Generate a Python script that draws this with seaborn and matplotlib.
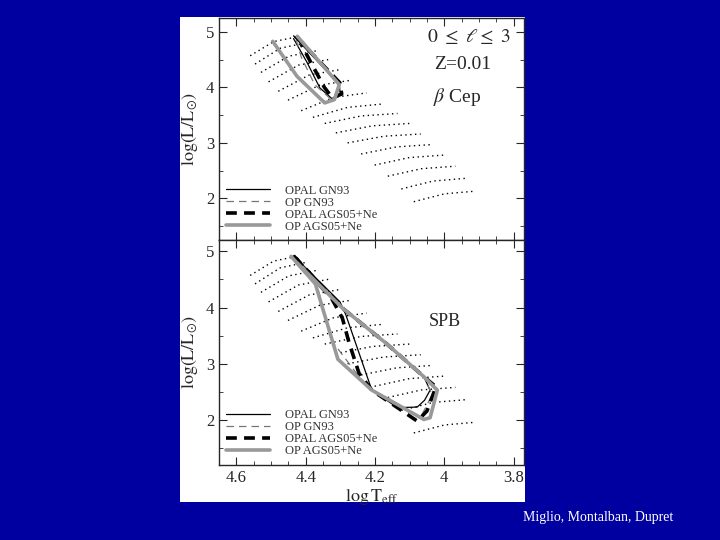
import numpy as np, pandas as pd, matplotlib
matplotlib.use("Agg")
import matplotlib.pyplot as plt
import seaborn as sns
from matplotlib.lines import Line2D

sns.set_style("ticks")
plt.rcParams['font.family'] = ['Liberation Serif', 'DejaVu Serif']
plt.rcParams['mathtext.fontset'] = 'stix'

# Evolutionary tracks: ZAMS start (logT, logL) and end points
track_T0 = [4.560, 4.546, 4.529, 4.507, 4.479, 4.451, 4.413, 4.379, 4.345, 4.313, 4.279, 4.240, 4.201, 4.163, 4.124, 4.088]
track_L0 = [4.57, 4.42, 4.27, 4.10, 3.93, 3.77, 3.58, 3.46, 3.35, 3.18, 3.00, 2.80, 2.60, 2.40, 2.17, 1.94]
track_T1 = [4.425, 4.401, 4.368, 4.335, 4.301, 4.268, 4.224, 4.179, 4.135, 4.101, 4.068, 4.035, 4.001, 3.968, 3.940, 3.910]
track_L1 = [4.91, 4.80, 4.66, 4.50, 4.32, 4.13, 3.90, 3.70, 3.53, 3.35, 3.16, 2.97, 2.78, 2.58, 2.36, 2.13]
bot_shift_L = [0.0]*15 + [-0.17]

# Top panel (beta Cep) boundaries
top_opal_gn93_T = [4.435, 4.307, 4.298, 4.321, 4.359, 4.396, 4.435]
top_opal_gn93_L = [4.93, 4.08, 3.87, 3.78, 3.99, 4.45, 4.88]
top_op_gn93_T = [4.429, 4.304, 4.296, 4.329, 4.374, 4.413, 4.429]
top_op_gn93_L = [4.92, 4.06, 3.86, 3.80, 4.05, 4.55, 4.90]
top_opal_ags_T = [4.429, 4.301, 4.296, 4.324, 4.346, 4.385, 4.413]
top_opal_ags_L = [4.92, 4.08, 3.88, 3.82, 4.00, 4.45, 4.78]
top_op_ags_T = [4.495, 4.425, 4.345, 4.317, 4.303, 4.424]
top_op_ags_L = [4.83, 4.20, 3.72, 3.78, 4.05, 4.92]

# Bottom panel (SPB) boundaries
bot_opal_gn93_T = [4.435, 4.294, 4.171, 4.059, 4.041, 4.057, 4.078, 4.135, 4.209, 4.284, 4.301, 4.435]
bot_opal_gn93_L = [4.92, 3.99, 3.38, 2.77, 2.53, 2.35, 2.23, 2.22, 2.53, 3.87, 4.10, 4.92]
bot_op_gn93_T = [4.435, 4.294, 4.171, 4.059, 4.035, 4.068, 4.209, 4.246, 4.321, 4.368, 4.435]
bot_op_gn93_L = [4.92, 3.99, 3.38, 2.77, 2.45, 2.05, 2.53, 2.77, 3.38, 4.40, 4.92]
bot_opal_ags_T = [4.435, 4.294, 4.171, 4.059, 4.024, 4.050, 4.078, 4.209, 4.246, 4.275, 4.294, 4.324, 4.435]
bot_opal_ags_L = [4.92, 3.99, 3.38, 2.77, 2.59, 2.16, 1.98, 2.53, 2.83, 3.38, 3.81, 4.15, 4.92]
bot_op_ags_T = [4.442, 4.372, 4.307, 4.209, 4.059, 4.041, 4.020, 4.059, 4.171, 4.294, 4.424]
bot_op_ags_L = [4.91, 4.42, 3.08, 2.53, 2.01, 2.04, 2.53, 2.77, 3.38, 3.99, 4.79]

legend_labels = ["OPAL GN93", "OP GN93", "OPAL AGS05+Ne", "OP AGS05+Ne"]
styles = [dict(color='black', lw=0.9, ls='-'),
          dict(color='#777777', lw=0.9, ls=(0, (6, 4))),
          dict(color='black', lw=2.6, ls=(0, (3, 2))),
          dict(color='#999999', lw=2.6, ls='-')]

fig = plt.figure(figsize=(7.2, 5.4), dpi=100)
fig.patch.set_facecolor('#0000a0')
fig.add_artist(plt.Rectangle((180/720, 1-502/540), 345/720, 485/540, transform=fig.transFigure,
                             facecolor='white', edgecolor='none', zorder=0))
ax1 = fig.add_axes([219/720, 1-240/540, 305/720, 222/540])
ax2 = fig.add_axes([219/720, 1-465/540, 305/720, 225/540])

def draw_tracks(ax, shift):
    for i in range(len(track_T0)):
        T0, L0 = track_T0[i], track_L0[i] + shift[i]
        T1, L1 = track_T1[i], track_L1[i] + shift[i]
        Tm, Lm = T0 + 0.5*(T1-T0), L0 + 0.75*(L1-L0)
        d = pd.DataFrame({'T': [T0, Tm, T1], 'L': [L0, Lm, L1]})
        sns.lineplot(data=d, x='T', y='L', ax=ax, sort=False, estimator=None,
                     color='black', lw=1.0, ls=(0, (1, 2.5)))

def draw_bounds(ax, sets):
    for (T, L), st in zip(sets, styles):
        d = pd.DataFrame({'T': T, 'L': L})
        sns.lineplot(data=d, x='T', y='L', ax=ax, sort=False, estimator=None, **st)

draw_tracks(ax1, [0.0]*16)
draw_bounds(ax1, [(top_opal_gn93_T, top_opal_gn93_L), (top_op_gn93_T, top_op_gn93_L),
                  (top_opal_ags_T, top_opal_ags_L), (top_op_ags_T, top_op_ags_L)])
draw_tracks(ax2, bot_shift_L)
draw_bounds(ax2, [(bot_opal_gn93_T, bot_opal_gn93_L), (bot_op_gn93_T, bot_op_gn93_L),
                  (bot_opal_ags_T, bot_opal_ags_L), (bot_op_ags_T, bot_op_ags_L)])

handles = [Line2D([], [], **st) for st in styles]
for ax, ylim in [(ax1, (1.25, 5.25)), (ax2, (1.2, 5.2))]:
    ax.set_xlim(4.62, 3.77)
    ax.set_ylim(*ylim)
    ax.set_xticks([4.6, 4.4, 4.2, 4.0, 3.8])
    ax.set_xticks(np.arange(3.8, 4.65, 0.05), minor=True)
    ax.set_yticks([2, 3, 4, 5])
    ax.set_yticks(np.arange(1.5, 5.3, 0.5), minor=True)
    ax.tick_params(direction='in', top=True, right=True, which='both', labelsize=12)
    ax.tick_params(which='major', length=6)
    ax.tick_params(which='minor', length=3)
    ax.set_ylabel(r'$\log(\mathrm{L}/\mathrm{L}_{\odot})$', fontsize=13)
    for s in ax.spines.values():
        s.set_linewidth(1.0)
    leg = ax.legend(handles, legend_labels, loc='lower left', frameon=False, fontsize=9,
                    handlelength=3.5, labelspacing=0.0, borderaxespad=0.2, handletextpad=1.2)
    for t in leg.get_texts():
        t.set_color('#333333')
ax1.set_xlabel('')
ax1.set_xticklabels([])
ax2.set_xticklabels(['4.6', '4.4', '4.2', '4', '3.8'])
ax2.set_xlabel(r'$\log\mathrm{T}_{\mathrm{eff}}$', fontsize=13, labelpad=1)

ax1.text(0.82, 0.89, r'$0\ \leq\ \ell\leq\ 3$', transform=ax1.transAxes, ha='center', fontsize=14)
ax1.text(0.80, 0.77, 'Z=0.01', transform=ax1.transAxes, ha='center', fontsize=14)
ax1.text(0.78, 0.62, r'$\beta$ Cep', transform=ax1.transAxes, ha='center', fontsize=14)
ax2.text(0.74, 0.62, 'SPB', transform=ax2.transAxes, ha='center', fontsize=13)

fig.text(598/720, 1-517/540, 'Miglio, Montalban, Dupret', color='white', ha='center', va='center',
         fontsize=10, family='Liberation Serif')
fig.savefig('out.png', dpi=100, facecolor=fig.get_facecolor())
